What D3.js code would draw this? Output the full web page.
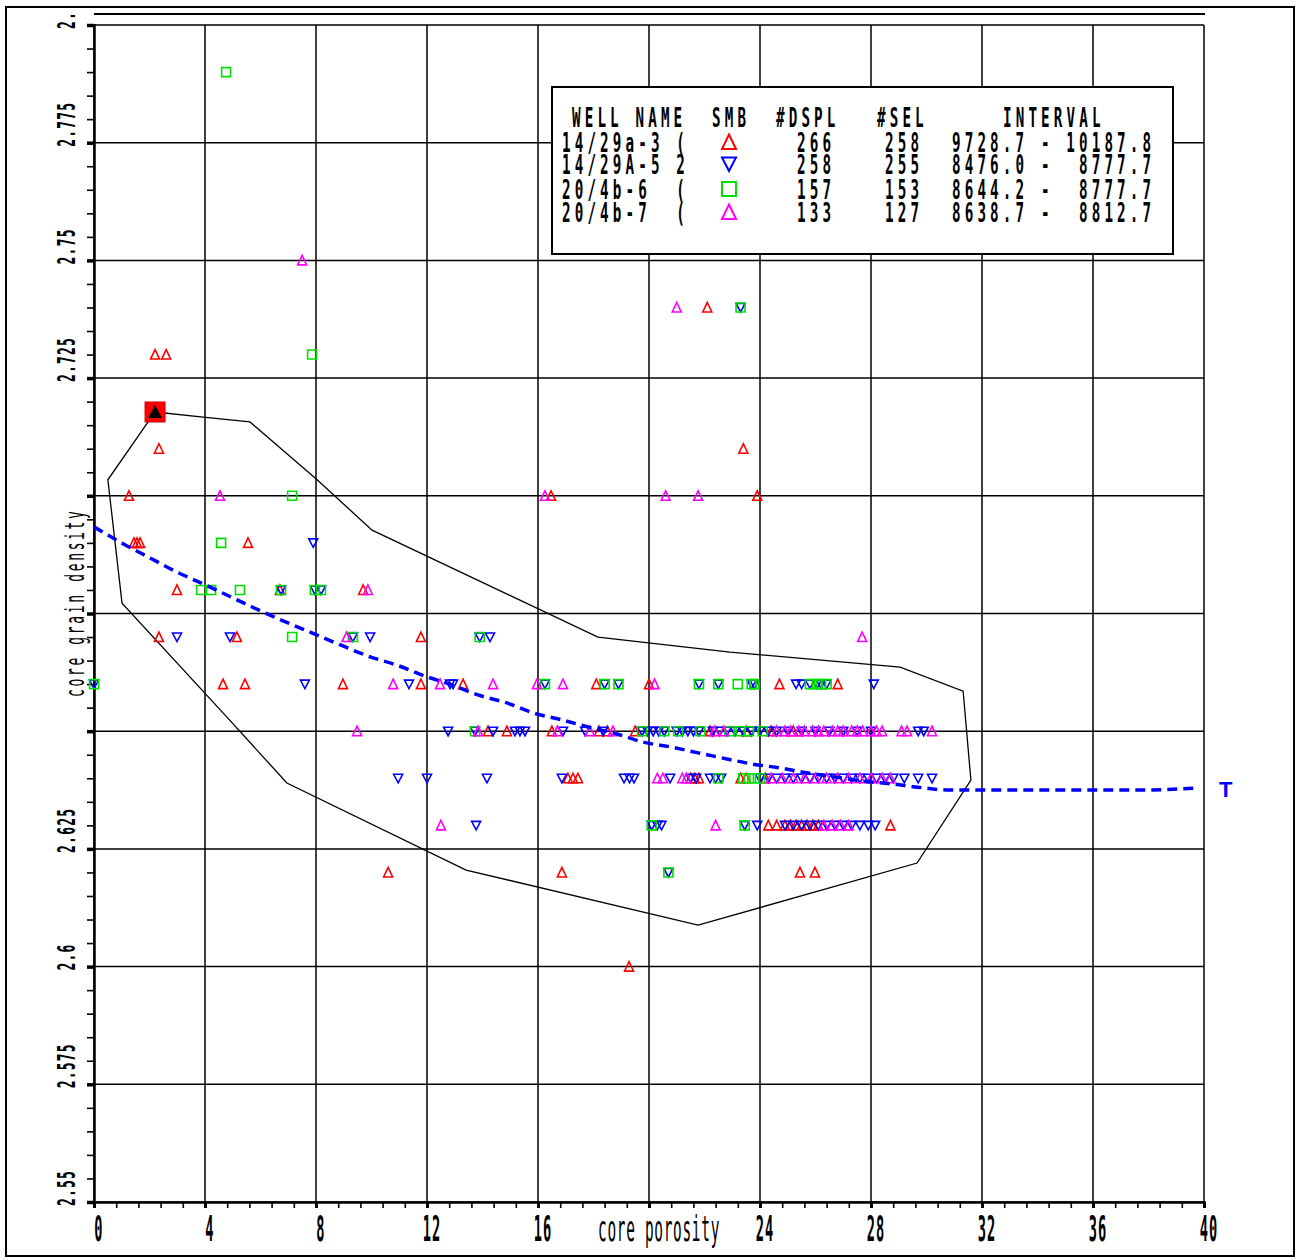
<!DOCTYPE html>
<html>
<head>
<meta charset="utf-8">
<script src="https://cdn.jsdelivr.net/npm/d3@7"></script>
<style>
  body { margin: 0; background: #fff; }
  svg { display: block; }
</style>
</head>
<body>
<div id="chart"></div>
<script>
// axis ticks
const xTicks = [0, 4, 8, 12, 16, 20, 24, 28, 32, 36, 40]
const xTickLabels = ["0", "4", "8", "12", "16", "", "24", "28", "32", "36", "40"]
const yTicks = [2.55, 2.575, 2.6, 2.625, 2.65, 2.675, 2.7, 2.725, 2.75, 2.775, 2.8]
const yTickLabels = ["2.55", "2.575", "2.6", "2.625", "", "", "", "2.725", "2.75", "2.775", "2.8"]

// legend
const wellNames = ["14/29a-3 (", "14/29A-5 2", "20/4b-6  (", "20/4b-7  ("]
const wellColors = ["#ff0000", "#0000ff", "#00e000", "#ff00ff"]
const wellSymbols = ["up", "down", "square", "up"]
const dspl = ["266", "258", "157", "133"]
const sel = ["258", "255", "153", "127"]
const intervals = ["9728.7 - 10187.8", "8476.0 -  8777.7", "8644.2 -  8777.7", "8638.7 -  8812.7"]

// points: [core porosity, core grain density]
const well1 = [
  [2.2, 2.73], [2.6, 2.73], [22.1, 2.74], [2.34, 2.71], [23.4, 2.71],
  [1.26, 2.70], [16.47, 2.70], [23.9, 2.70],
  [1.44, 2.69], [1.55, 2.69], [1.66, 2.69], [5.55, 2.69],
  [2.99, 2.68], [6.7, 2.68], [9.7, 2.68],
  [2.34, 2.67], [5.15, 2.67], [11.78, 2.67],
  [4.65, 2.66], [5.44, 2.66], [8.97, 2.66], [11.78, 2.66], [13.3, 2.66], [18.1, 2.66], [20.0, 2.66], [24.7, 2.66], [26.8, 2.66],
  [14.2, 2.65], [14.88, 2.65], [16.5, 2.65], [18.2, 2.65], [18.5, 2.65], [19.5, 2.65], [22.2, 2.65], [23.5, 2.65], [24.4, 2.65], [25.2, 2.65],
  [17.08, 2.64], [17.26, 2.64], [17.44, 2.64], [21.5, 2.64], [21.65, 2.64], [21.8, 2.64], [23.3, 2.64], [23.5, 2.64], [24.2, 2.64],
  [24.3, 2.63], [24.6, 2.63], [24.9, 2.63], [25.1, 2.63], [25.3, 2.63], [25.5, 2.63], [25.7, 2.63], [25.9, 2.63], [26.1, 2.63], [28.7, 2.63],
  [10.6, 2.62], [16.86, 2.62], [25.44, 2.62], [25.98, 2.62],
  [19.28, 2.60]
]
const well2 = [
  [23.3, 2.74], [7.9, 2.69],
  [6.74, 2.68], [7.96, 2.68], [8.18, 2.68],
  [2.99, 2.67], [4.9, 2.67], [9.33, 2.67], [9.95, 2.67], [13.9, 2.67], [14.27, 2.67],
  [0, 2.66], [7.6, 2.66], [11.35, 2.66], [12.83, 2.66], [12.94, 2.66], [16.25, 2.66], [18.4, 2.66], [18.9, 2.66], [21.8, 2.66], [22.5, 2.66],
  [23.7, 2.66], [23.8, 2.66], [25.3, 2.66], [25.5, 2.66], [25.8, 2.66], [26.05, 2.66], [26.2, 2.66], [26.4, 2.66], [28.1, 2.66],
  [12.76, 2.65], [13.73, 2.65], [14.38, 2.65], [15.17, 2.65], [15.35, 2.65], [15.53, 2.65], [16.9, 2.65], [17.7, 2.65], [18.35, 2.65],
  [19.75, 2.65], [19.95, 2.65], [20.15, 2.65], [20.35, 2.65], [20.55, 2.65], [21.0, 2.65], [21.2, 2.65], [21.4, 2.65], [21.6, 2.65], [21.8, 2.65],
  [22.3, 2.65], [22.55, 2.65], [22.8, 2.65], [23.1, 2.65], [23.4, 2.65], [23.7, 2.65], [24.0, 2.65], [24.3, 2.65], [24.6, 2.65], [25.0, 2.65],
  [25.5, 2.65], [26.0, 2.65], [26.5, 2.65], [27.0, 2.65], [27.5, 2.65], [28.0, 2.65], [29.7, 2.65], [29.9, 2.65],
  [10.96, 2.64], [12.0, 2.64], [14.16, 2.64], [16.86, 2.64], [19.1, 2.64], [19.3, 2.64], [19.46, 2.64], [20.76, 2.64], [21.5, 2.64], [21.7, 2.64],
  [22.2, 2.64], [22.4, 2.64], [22.6, 2.64], [24.0, 2.64], [24.3, 2.64], [24.6, 2.64], [24.9, 2.64], [25.2, 2.64], [25.5, 2.64], [25.8, 2.64],
  [26.1, 2.64], [26.4, 2.64], [26.7, 2.64], [27.0, 2.64], [27.3, 2.64], [27.6, 2.64], [27.9, 2.64], [28.2, 2.64], [28.5, 2.64], [28.8, 2.64],
  [29.2, 2.64], [29.7, 2.64], [30.2, 2.64],
  [13.77, 2.63], [20.1, 2.63], [20.3, 2.63], [20.45, 2.63], [23.45, 2.63], [23.9, 2.63], [24.9, 2.63], [25.2, 2.63], [25.5, 2.63], [25.8, 2.63],
  [26.1, 2.63], [26.4, 2.63], [26.7, 2.63], [27.0, 2.63], [27.3, 2.63], [27.6, 2.63], [27.9, 2.63], [28.15, 2.63],
  [20.7, 2.62]
]
const well3 = [
  [4.76, 2.79], [23.3, 2.74], [7.86, 2.73], [7.14, 2.70], [4.58, 2.69],
  [3.86, 2.68], [4.22, 2.68], [5.26, 2.68], [6.74, 2.68], [7.96, 2.68], [8.18, 2.68],
  [7.14, 2.67], [9.33, 2.67], [13.9, 2.67],
  [0, 2.66], [16.25, 2.66], [18.4, 2.66], [18.9, 2.66], [21.8, 2.66], [22.5, 2.66], [23.2, 2.66], [23.7, 2.66], [23.8, 2.66],
  [25.8, 2.66], [26.05, 2.66], [26.2, 2.66], [26.4, 2.66],
  [13.73, 2.65], [19.75, 2.65], [20.55, 2.65], [21.05, 2.65], [21.85, 2.65], [22.9, 2.65], [23.3, 2.65], [23.6, 2.65], [24.1, 2.65],
  [22.5, 2.64], [23.4, 2.64], [23.6, 2.64], [23.8, 2.64], [24.0, 2.64],
  [20.1, 2.63], [23.45, 2.63],
  [20.7, 2.62]
]
const well4 = [
  [7.5, 2.75], [21.0, 2.74],
  [4.54, 2.70], [16.25, 2.70], [20.6, 2.70], [21.77, 2.70],
  [9.87, 2.68], [9.1, 2.67], [27.68, 2.67],
  [10.78, 2.66], [12.47, 2.66], [14.38, 2.66], [15.96, 2.66], [16.9, 2.66], [20.2, 2.66],
  [9.48, 2.65], [13.84, 2.65], [16.7, 2.65], [17.87, 2.65], [18.7, 2.65], [22.35, 2.65], [22.7, 2.65], [24.6, 2.65], [24.9, 2.65], [25.1, 2.65],
  [25.4, 2.65], [25.6, 2.65], [25.9, 2.65], [26.1, 2.65], [26.3, 2.65], [26.6, 2.65], [26.8, 2.65], [27.0, 2.65], [27.3, 2.65], [27.5, 2.65],
  [27.7, 2.65], [28.0, 2.65], [28.2, 2.65], [28.4, 2.65], [29.1, 2.65], [29.3, 2.65], [30.2, 2.65],
  [20.3, 2.64], [20.5, 2.64], [21.2, 2.64], [21.35, 2.64], [24.4, 2.64], [24.8, 2.64], [25.2, 2.64], [25.6, 2.64], [26.0, 2.64], [26.4, 2.64],
  [26.8, 2.64], [27.2, 2.64], [27.6, 2.64], [28.0, 2.64], [28.4, 2.64], [28.7, 2.64],
  [12.5, 2.63], [22.4, 2.63], [26.3, 2.63], [26.6, 2.63], [26.9, 2.63], [27.2, 2.63]
]
const wells = [well1, well2, well3, well4]

// highlighted sample
const highlightPoint = [2.2, 2.7178]

// envelope polygon
const envelopePorosity = [2.2, 3.93, 5.62, 8.04, 10.02, 18.16, 22.92, 29.05, 31.32, 31.6, 29.66, 21.77, 13.41, 6.95, 4.79, 1.01, 0.5]
const envelopeDensity = [2.7178, 2.7167, 2.7157, 2.7034, 2.6927, 2.67, 2.6668, 2.6636, 2.6585, 2.6396, 2.622, 2.6088, 2.6205, 2.639, 2.653, 2.6772, 2.7034]

// blue dashed trend
const trendPorosity = [0, 1.05, 2.02, 2.99, 4.0, 5.01, 6.02, 6.99, 7.96, 8.97, 9.95, 10.88, 11.93, 12.9, 13.84, 14.88, 15.82, 16.86, 17.8, 18.85,
  19.78, 20.83, 21.77, 22.81, 23.75, 24.72, 25.73, 26.7, 27.71, 28.76, 29.69, 30.85, 32.65, 36.25, 37.69, 39.68]
const trendDensity = [2.6934, 2.6898, 2.6868, 2.6838, 2.6811, 2.6783, 2.6755, 2.673, 2.6706, 2.6681, 2.6658, 2.6641, 2.6617, 2.6598, 2.6577, 2.656, 2.6539, 2.6524, 2.6509, 2.6494,
  2.6477, 2.6466, 2.6454, 2.6441, 2.643, 2.6422, 2.6411, 2.6403, 2.6394, 2.6388, 2.6381, 2.6375, 2.6375, 2.6375, 2.6375, 2.6379]

const width = 1296
const height = 1260
const plot = {left: 94, right: 1204, top: 25, bottom: 1202}
const FONT = "DejaVu Sans Mono"

const svg = d3.select("#chart").append("svg")
  .attr("width", width)
  .attr("height", height)

const x = d3.scaleLinear().domain([0, 40]).range([plot.left, plot.right])
const y = d3.scaleLinear().domain([2.55, 2.8]).range([plot.bottom, plot.top])

// narrow plotter-like text
function plotText(parent, str, px, py, o) {
  const g = parent.append("g")
    .attr("transform", `translate(${px},${py}) rotate(${o.rot || 0}) scale(${o.sx},${o.sy || 1})`)
  return g.append("text")
    .attr("font-family", FONT)
    .attr("font-size", o.size)
    .attr("font-weight", o.weight || "normal")
    .attr("letter-spacing", o.ls || 0)
    .attr("text-anchor", o.anchor || "start")
    .attr("fill", o.fill || "#000")
    .style("white-space", "pre")
    .text(str)
}

function symbolPath(kind, s) {
  const h = s / 2
  if (kind === "up") return `M0,${-h - 0.5}L${h},${h}L${-h},${h}Z`
  if (kind === "down") return `M${-h},${-h + 0.5}L${h},${-h + 0.5}L0,${h}Z`
  return `M${-h},${-h}H${h}V${h}H${-h}Z`
}

// frame
svg.append("rect")
  .attr("x", 6).attr("y", 7)
  .attr("width", 1288).attr("height", 1249)
  .attr("fill", "none").attr("stroke", "#000").attr("stroke-width", 2)

svg.append("line")
  .attr("x1", plot.left).attr("x2", plot.right + 1)
  .attr("y1", 14).attr("y2", 14)
  .attr("stroke", "#000").attr("stroke-width", 2)

// grid
const grid = svg.append("g").attr("stroke", "#000").attr("stroke-width", 1.5)
grid.selectAll("line.v").data(xTicks).join("line")
  .attr("class", "v")
  .attr("x1", d => x(d)).attr("x2", d => x(d))
  .attr("y1", plot.top).attr("y2", plot.bottom)
grid.selectAll("line.h").data(yTicks).join("line")
  .attr("class", "h")
  .attr("x1", plot.left).attr("x2", plot.right)
  .attr("y1", d => y(d)).attr("y2", d => y(d))

// axes with minor ticks
const xMinor = d3.range(0, 40.001, 0.8)
const yMinor = d3.range(2.55, 2.8001, 0.005)

const xAxis = svg.append("g")
  .attr("transform", `translate(0,${plot.bottom})`)
  .call(d3.axisBottom(x).tickValues(xMinor).tickSize(6).tickFormat(""))
xAxis.select(".domain").attr("stroke-width", 2.5)
xAxis.selectAll(".tick line").attr("stroke-width", 1.6)
xAxis.selectAll(".tick line").filter(d => Math.abs(d / 4 - Math.round(d / 4)) < 1e-6).attr("stroke-width", 3)

const yAxis = svg.append("g")
  .attr("transform", `translate(${plot.left},0)`)
  .call(d3.axisLeft(y).tickValues(yMinor).tickSize(7).tickFormat(""))
yAxis.select(".domain").attr("stroke-width", 2.5)
yAxis.selectAll(".tick line").attr("stroke-width", 1.6)
yAxis.selectAll(".tick line").filter(d => Math.abs((d - 2.55) / 0.025 - Math.round((d - 2.55) / 0.025)) < 1e-6).attr("stroke-width", 3.5)

// tick labels
const xLab = svg.append("g")
xTicks.forEach((t, i) => {
  if (xTickLabels[i]) plotText(xLab, xTickLabels[i], x(t) + 5, 1241, {size: 36, sx: 0.38, ls: 3, anchor: "middle", weight: "bold"})
})

svg.append("clipPath").attr("id", "ylabclip")
  .append("rect").attr("x", 0).attr("y", 12).attr("width", 94).attr("height", 1242)
const yLab = svg.append("g").attr("clip-path", "url(#ylabclip)")
yTicks.forEach((t, i) => {
  if (yTickLabels[i]) plotText(yLab, yTickLabels[i], 75, y(t) + 4, {size: 25, sx: 0.52, ls: 2.3, rot: -90, weight: "bold"})
})

// axis titles
plotText(svg, "core porosity", 598, 1241, {size: 36, sx: 0.4, ls: 1.8})
plotText(svg, "core grain density", 84, 697, {size: 26, sx: 0.5, ls: 5.3, rot: -90})

// envelope
const envelope = envelopePorosity.map((p, i) => [p, envelopeDensity[i]])
svg.append("path")
  .attr("d", d3.line().x(d => x(d[0])).y(d => y(d[1])).curve(d3.curveLinearClosed)(envelope))
  .attr("fill", "none").attr("stroke", "#000").attr("stroke-width", 1.3)

// points
wells.forEach((pts, wi) => {
  svg.append("g")
    .selectAll("path").data(pts).join("path")
    .attr("transform", d => `translate(${x(d[0])},${y(d[1])})`)
    .attr("d", symbolPath(wellSymbols[wi], 9))
    .attr("fill", "none")
    .attr("stroke", wellColors[wi])
    .attr("stroke-width", 1.6)
})

// trend line
const trend = trendPorosity.map((p, i) => [p, trendDensity[i]])
svg.append("path")
  .attr("d", d3.line().x(d => x(d[0])).y(d => y(d[1])).curve(d3.curveMonotoneX)(trend))
  .attr("fill", "none").attr("stroke", "#0000ff")
  .attr("stroke-width", 3.5).attr("stroke-dasharray", "10,6")

svg.append("text")
  .attr("x", 1219).attr("y", 797)
  .attr("font-family", "Liberation Sans").attr("font-weight", "bold")
  .attr("font-size", 22).attr("fill", "#0000ff")
  .text("T")

// highlighted sample
const hl = svg.append("g").attr("transform", `translate(${x(highlightPoint[0])},${y(highlightPoint[1])})`)
hl.append("rect").attr("x", -10).attr("y", -10).attr("width", 20).attr("height", 20)
  .attr("fill", "#ff0000").attr("stroke", "#cc0000").attr("stroke-width", 1)
hl.append("path").attr("d", "M0,-7L7,6L-7,6Z").attr("fill", "#000")

// legend
const lg = svg.append("g")
lg.append("rect")
  .attr("x", 552).attr("y", 87).attr("width", 621).attr("height", 167)
  .attr("fill", "#fff").attr("stroke", "#000").attr("stroke-width", 2)

// tall narrow glyphs: small font stretched vertically
const lo = {size: 19, sx: 0.75, sy: 1.37, ls: 5.5, weight: "bold"}
plotText(lg, "WELL NAME", 572, 127, lo)
plotText(lg, "SMB", 712, 127, lo)
plotText(lg, "#DSPL", 776, 127, lo)
plotText(lg, "#SEL", 877, 127, lo)
plotText(lg, "INTERVAL", 1003, 127, lo)

const rowY = [152, 174, 199, 222]
wellNames.forEach((name, i) => {
  plotText(lg, name, 562, rowY[i], lo)
  plotText(lg, dspl[i], 797, rowY[i], lo)
  plotText(lg, sel[i], 885, rowY[i], lo)
  plotText(lg, intervals[i], 952, rowY[i], lo)
  lg.append("path")
    .attr("transform", `translate(729,${rowY[i] - 10})`)
    .attr("d", symbolPath(wellSymbols[i], 14))
    .attr("fill", "none").attr("stroke", wellColors[i]).attr("stroke-width", 2)
})
</script>
</body>
</html>
